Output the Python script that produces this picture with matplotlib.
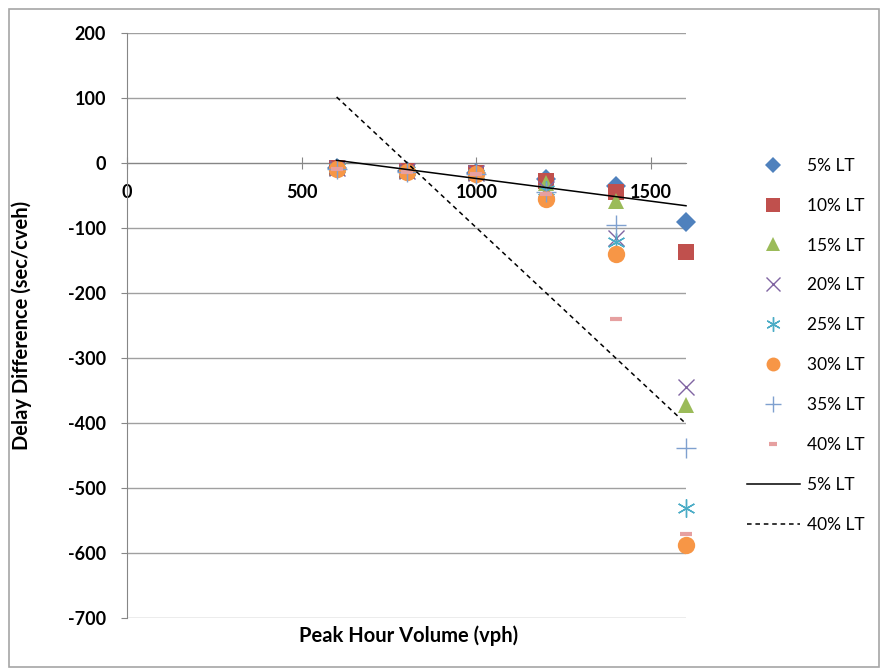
import numpy as np
import matplotlib
matplotlib.use('Agg')
import matplotlib.pyplot as plt
from matplotlib.lines import Line2D
from matplotlib.patches import Rectangle

plt.rcParams['font.family'] = ['Lato', 'DejaVu Sans']
plt.rcParams['axes.unicode_minus'] = False

# Peak hour volume (vph)
volume = [600, 800, 1000, 1200, 1400, 1600]

# Delay difference (sec/cveh) per left-turn percentage
lt_5 = [-8, -12, -15, -25, -35, -90]
lt_10 = [-8, -13, -15, -28, -45, -137]
lt_15 = [-8, -13, -16, -30, -58, -372]
lt_20 = [-8, -13, -16, -40, -115, -345]
lt_25 = [-8, -13, -17, -42, -122, -531]
lt_30 = [-9, -14, -17, -55, -140, -588]
lt_35 = [-9, -14, -17, -45, -95, -438]
lt_40 = [-9, -14, -17, -48, -240, -571]

series_labels = ['5% LT', '10% LT', '15% LT', '20% LT', '25% LT', '30% LT', '35% LT', '40% LT']
x_ticks = [0, 500, 1000, 1500]
y_ticks = [200, 100, 0, -100, -200, -300, -400, -500, -600, -700]

series = [lt_5, lt_10, lt_15, lt_20, lt_25, lt_30, lt_35, lt_40]
styles = [
    dict(marker='D', color='#4F81BD', ms=10, mew=0),
    dict(marker='s', color='#C0504D', ms=12, mew=0),
    dict(marker='^', color='#9BBB59', ms=12, mew=0),
    dict(marker='x', color='#8064A2', ms=12, mew=1.0),
    dict(marker=(6, 2, 0), color='#4BACC6', ms=13, mew=1.0),
    dict(marker='o', color='#F79646', ms=12.5, mew=0),
    dict(marker='+', color='#7FA0CF', ms=14, mew=1.0),
    dict(marker='_', color='#E6A0A0', ms=8, mew=3.0),
]

fig = plt.figure(figsize=(8.83, 6.71), dpi=100)
ax = fig.add_axes([127 / 883, 1 - 618 / 671, 559 / 883, 585 / 671])

handles = []
for vals, st in zip(series, styles):
    ax.plot(volume, vals, linestyle='none', marker=st['marker'], color=st['color'],
            markersize=st['ms'], markeredgewidth=st['mew'], zorder=3, clip_on=False)
    handles.append(Line2D([0], [0], linestyle='none', marker=st['marker'], color=st['color'],
                          markersize=st['ms'] * 0.8, markeredgewidth=st['mew']))

# Linear trendlines for 5% and 40% LT
xs = np.array([volume[0], volume[-1]])
p5 = np.polyfit(volume, lt_5, 1)
p40 = np.polyfit(volume, lt_40, 1)
ax.plot(xs, np.polyval(p5, xs), color='black', lw=1.1, zorder=4, clip_on=False)
ax.plot(xs, np.polyval(p40, xs), color='black', lw=1.1, ls=(0, (3, 2.5)), zorder=4, clip_on=False)
handles.append(Line2D([0], [0], color='black', lw=1.1))
handles.append(Line2D([0], [0], color='black', lw=1.1, ls=(0, (3, 2.5))))

ax.set_xlim(0, 1600)
ax.set_ylim(-700, 200)
ax.set_yticks(y_ticks)
ax.set_xticks(x_ticks)
ax.yaxis.grid(True, color='#a0a0a0', lw=1.0)
ax.set_axisbelow(True)

for s in ['top', 'right']:
    ax.spines[s].set_visible(False)
ax.spines['bottom'].set_position(('data', 0))
ax.spines['bottom'].set_color('#868686')
ax.spines['left'].set_color('#868686')

ax.tick_params(axis='y', direction='out', length=4, color='#868686', pad=11,
               labelsize=13)
ax.tick_params(axis='x', direction='inout', length=8, color='#868686', pad=11,
               labelsize=13)
for lbl in ax.get_yticklabels() + ax.get_xticklabels():
    lbl.set_fontweight('bold')

fig.text(409 / 883, 1 - 636 / 671, 'Peak Hour Volume (vph)', ha='center', va='center',
         fontsize=14.5, fontweight='bold')
fig.text(22 / 883, 1 - 325 / 671, 'Delay Difference (sec/cveh)', ha='center', va='center',
         rotation=90, fontsize=14.5, fontweight='bold')

fig.legend(handles, series_labels + ['5% LT', '40% LT'], loc='upper left',
           bbox_to_anchor=(731 / 883, 1 - 142 / 671), frameon=False, fontsize=12.5,
           labelspacing=1.38, handlelength=3.05, handletextpad=0.45)

fig.patches.append(Rectangle((9 / 883, 4 / 671), 870 / 883, 658 / 671, transform=fig.transFigure,
                             fill=False, edgecolor='#a6a6a6', lw=1.2))

plt.savefig('out.png', dpi=100)
